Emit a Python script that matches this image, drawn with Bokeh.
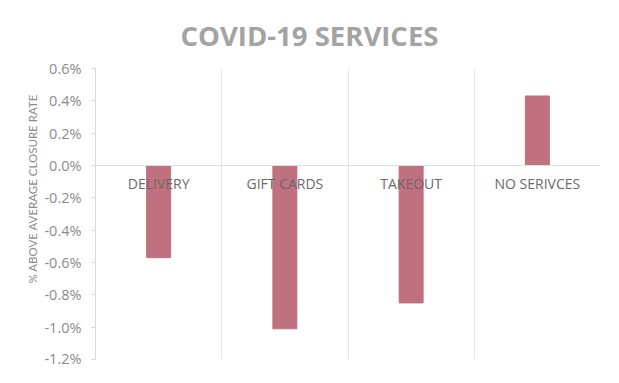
from bokeh.plotting import figure
from bokeh.models import ColumnDataSource, FixedTicker, NumeralTickFormatter, Span, Title
from bokeh.core.properties import value
from bokeh.embed import file_html
from bokeh.resources import INLINE

categories = ["DELIVERY", "GIFT CARDS", "TAKEOUT", "NO SERIVCES"]
rates = [-0.0057, -0.0101, -0.0085, 0.0043]
y_ticks = [0.006, 0.004, 0.002, 0.0, -0.002, -0.004, -0.006, -0.008, -0.010, -0.012]

xs = [i + 0.5 for i in range(len(categories))]
src = ColumnDataSource(dict(x=xs, top=rates, cat=categories, ly=[-0.00114] * len(categories)))

p = figure(width=603, height=367, output_backend="svg", toolbar_location=None,
           x_range=(0, len(categories)), y_range=(-0.012, 0.006),
           min_border_left=95, min_border_right=3, min_border_top=68, min_border_bottom=8,
           title="COVID-19 SERVICES")
p.title.align = "left"
p.title.offset = 85
p.title.text_font = "Open Sans"
p.title.text_font_size = "27.5px"
p.title.text_font_style = "bold"
p.title.text_color = "#a3a3a3"
p.title.standoff = 29
p.outline_line_color = None

p.xaxis.visible = False
p.xgrid.ticker = FixedTicker(ticks=list(range(len(categories) + 1)))
p.xgrid.grid_line_color = "#e6e6e6"
p.ygrid.grid_line_color = None

ax = p.yaxis[0]
ax.ticker = FixedTicker(ticks=y_ticks)
ax.formatter = NumeralTickFormatter(format="0.0%")
ax.axis_line_color = "#d9d9d9"
ax.major_tick_line_color = "#d9d9d9"
ax.major_tick_out = 4
ax.major_tick_in = 0
ax.minor_tick_line_color = None
ax.major_label_text_font = "Open Sans"
ax.major_label_text_font_size = "14.5px"
ax.major_label_text_color = "#8c8c8c"
ax.major_label_standoff = 10

y_title = Title(text="% ABOVE AVERAGE CLOSURE RATE", align="left", offset=76,
                text_font="Lato", text_font_size="11.5px", text_font_style="normal",
                text_color="#8c8c8c", standoff=6)
p.add_layout(y_title, "left")

p.add_layout(Span(location=0, dimension="width", line_color="#e0e0e0", line_width=1))

p.vbar(x="x", top="top", bottom=0, width=0.19, source=src,
       fill_color="#c0707e", line_color="#c0707e")
p.text(x="x", y="ly", text="cat", source=src, text_align="center", text_baseline="middle",
       text_font=value("Open Sans"), text_font_size="14px", text_color="#6a6a6a")

open("out.html", "w").write(file_html(p, INLINE))
